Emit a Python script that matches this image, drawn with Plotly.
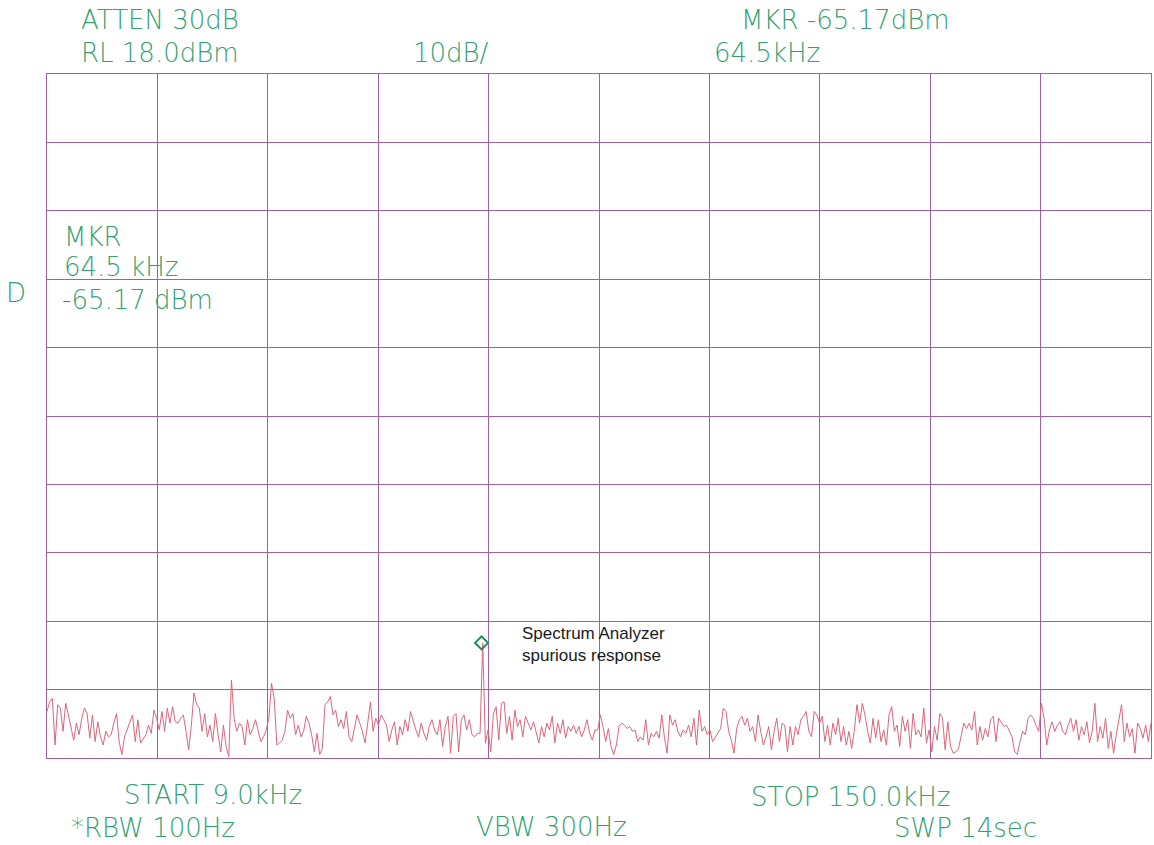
import numpy as np
import plotly.graph_objects as go

# ---- instrument settings ----
start_khz = 9.0
stop_khz = 150.0
ref_level_dbm = 18.0
db_per_div = 10.0
n_div = 10

marker_khz = 64.5
marker_dbm = -65.17

# ---- trace values (dBm), left to right ----
seg1 = [-75.2, -73.8, -73.3, -80.1, -74.2, -74.7, -78.1, -74.0, -75.7, -77.7,
        -79.4, -76.9, -78.6, -76.2, -74.7, -75.5, -79.1, -75.7, -79.6, -76.7,
        -78.9, -80.1, -78.1, -78.9, -78.6, -76.9, -75.5, -79.6, -81.5, -78.9,
        -77.9, -76.9, -75.7, -79.6, -76.4, -79.8, -79.1, -78.6, -77.2, -78.4,
        -75.0, -76.2, -77.9, -75.2, -78.1, -74.7, -76.9, -74.5, -76.7, -76.9,
        -76.2, -75.7, -78.1, -80.8, -77.2, -72.5, -74.2, -74.7, -78.1, -75.5,
        -78.9, -77.2, -79.6, -75.5, -78.6, -81.1, -77.2, -80.3, -81.8]
seg2 = [-70.6, -76.2, -78.1, -76.9, -77.4, -80.1, -76.4, -78.6, -77.7, -76.4,
        -78.1, -79.6, -78.9, -77.9, -76.2, -71.1, -73.3, -80.1, -79.8, -79.4,
        -78.1, -75.0, -76.2, -75.5, -78.6, -77.2, -78.9, -78.1, -75.9, -76.9,
        -78.6, -81.1, -78.4, -81.5, -80.6, -74.2, -73.8, -73.0, -75.7, -75.0,
        -77.4, -76.4, -77.7, -75.2, -78.9, -79.6, -77.7, -75.7, -76.9, -78.1,
        -79.8, -76.4, -73.8, -78.1, -76.2, -77.2, -75.7, -76.4, -77.2, -79.6,
        -77.9, -76.7, -80.1, -77.4, -78.6, -76.4, -78.1, -75.2, -76.7]
seg3 = [-77.9, -78.9, -76.9, -78.4, -79.4, -77.4, -76.4, -77.9, -78.6, -76.4,
        -80.3, -77.4, -75.9, -81.3, -75.9, -75.5, -81.1, -76.4, -75.7, -77.9,
        -76.4, -78.6, -78.9, -78.4, -78.4, -65.17, -79.8, -77.9, -81.1, -75.5,
        -74.5, -79.4, -74.0, -73.8, -78.4, -75.9, -79.4, -75.0, -77.4, -76.4,
        -78.9, -75.9, -76.9, -77.9, -76.7, -78.4, -79.8, -77.4, -78.9, -76.9,
        -77.9, -75.9, -79.8, -76.9, -78.4, -76.4, -79.1, -77.4, -78.1, -77.2,
        -78.4, -77.4, -78.9, -77.9, -76.4, -78.4, -79.4, -77.9, -77.9]
seg4 = [-75.7, -77.4, -79.6, -77.7, -80.3, -81.5, -80.1, -77.4, -76.9, -77.2,
        -77.7, -77.4, -78.1, -77.9, -79.6, -78.9, -79.4, -76.4, -80.1, -78.4,
        -78.9, -78.1, -79.1, -75.7, -79.1, -81.3, -75.7, -77.2, -76.4, -78.1,
        -78.9, -77.9, -78.4, -77.2, -78.9, -76.2, -80.1, -75.0, -78.1, -77.4,
        -78.6, -77.9, -79.6, -78.9, -78.4, -77.7, -74.7, -75.2, -78.1, -79.4,
        -81.3, -77.7, -76.4, -75.9, -77.2, -76.2, -78.1, -77.4, -79.6, -75.7,
        -78.1, -80.1, -78.9, -77.4, -80.8, -78.1, -76.2, -79.6, -76.9]
seg5 = [-77.2, -81.1, -77.4, -80.1, -77.4, -78.6, -76.4, -75.9, -75.2, -78.1,
        -78.9, -75.2, -75.7, -76.9, -75.9, -79.6, -77.2, -80.1, -76.9, -78.6,
        -76.2, -79.6, -77.4, -80.1, -78.1, -80.6, -78.1, -74.2, -76.9, -74.0,
        -75.7, -78.1, -79.8, -76.2, -79.1, -76.4, -79.6, -77.9, -80.1, -75.7,
        -74.5, -78.1, -77.2, -80.3, -75.9, -78.1, -76.4, -80.6, -75.5, -78.6,
        -77.9, -78.9, -74.7, -79.8, -77.9, -81.1, -77.4, -79.4, -75.5, -76.2,
        -80.8, -76.7, -80.3, -81.3, -81.1, -80.6, -78.6, -76.9, -77.7]
seg6 = [-76.9, -77.9, -75.2, -80.1, -77.4, -79.4, -77.7, -78.9, -76.4, -75.9,
        -79.6, -76.2, -76.9, -77.4, -77.2, -78.1, -78.9, -81.1, -81.5, -79.6,
        -78.1, -78.6, -76.2, -75.7, -76.2, -77.2, -78.1, -74.0, -76.2, -80.1,
        -77.9, -76.7, -78.1, -77.2, -76.7, -78.1, -78.6, -77.2, -76.2, -78.1,
        -76.4, -79.4, -77.4, -78.6, -76.7, -79.8, -78.1, -74.0, -79.6, -77.4,
        -79.1, -76.2, -80.6, -78.1, -81.3, -78.6, -76.2, -74.2, -79.6, -76.9,
        -78.9, -77.7, -81.3, -76.9, -77.7, -79.1, -77.2, -79.6, -76.9]

trace_dbm = seg1 + seg2 + seg3 + seg4 + seg5 + seg6
freq_khz = np.linspace(start_khz, stop_khz, len(trace_dbm))

bottom_dbm = ref_level_dbm - db_per_div * n_div

GREEN = "#34a072"
GRID = "#a0629e"
TRACE = "#d9677c"
FONT = "DejaVu Sans"

fig = go.Figure()
fig.add_trace(go.Scatter(x=freq_khz, y=trace_dbm, mode="lines",
                         line=dict(color=TRACE, width=1), hoverinfo="skip"))
fig.add_trace(go.Scatter(x=[marker_khz], y=[marker_dbm], mode="markers",
                         marker=dict(symbol="diamond-open", size=10, color="#1f8a5a",
                                     line=dict(width=2, color="#1f8a5a")),
                         hoverinfo="skip"))

L, R, T, B = 47, 1151, 74, 758
W, H = 1154, 845


def px(xp):
    return (xp - L) / (R - L)


def py(yp):
    return (B - yp) / (B - T)


texts = [
    ("ATTEN 30dB", 160, 20, "center"),
    ("RL 18.0dBm", 160, 53, "center"),
    ("10dB/", 451, 53, "center"),
    ("MKR -65.17dBm", 845, 20, "center"),
    ("64.5kHz", 767, 53, "center"),
    ("MKR", 62, 237, "left"),
    ("64.5 kHz", 62, 267, "left"),
    ("-65.17 dBm", 60, 300, "left"),
    ("D", 16, 293, "center"),
    ("START 9.0kHz", 213, 795, "center"),
    ("*RBW 100Hz", 153, 828, "center"),
    ("VBW 300Hz", 551, 827, "center"),
    ("STOP 150.0kHz", 850, 797, "center"),
    ("SWP 14sec", 965, 828, "center"),
]
annotations = []
for txt, x0, y0, anchor in texts:
    annotations.append(dict(text=txt, x=px(x0), y=py(y0), xref="paper", yref="paper",
                            xanchor=anchor, yanchor="middle", showarrow=False,
                            font=dict(family=FONT, size=26, color=GREEN, weight=200)))
annotations.append(dict(text="Spectrum Analyzer<br>spurious response", x=px(520), y=py(644),
                        xref="paper", yref="paper", xanchor="left", yanchor="middle",
                        align="left", showarrow=False,
                        font=dict(family="Liberation Sans", size=17, color="#1a1a1a")))

fig.update_layout(
    width=W, height=H,
    margin=dict(l=L, r=W - R, t=T, b=H - B),
    paper_bgcolor="white", plot_bgcolor="white",
    showlegend=False,
    annotations=annotations,
)
fig.update_xaxes(range=[start_khz, stop_khz], tick0=start_khz,
                 dtick=(stop_khz - start_khz) / n_div, showgrid=True,
                 gridcolor=GRID, gridwidth=1, showline=True, mirror=True,
                 linecolor=GRID, linewidth=1, showticklabels=False, ticks="",
                 zeroline=False, fixedrange=True)
fig.update_yaxes(range=[bottom_dbm, ref_level_dbm], tick0=bottom_dbm, dtick=db_per_div,
                 showgrid=True, gridcolor=GRID, gridwidth=1, showline=True, mirror=True,
                 linecolor=GRID, linewidth=1, showticklabels=False, ticks="",
                 zeroline=False, fixedrange=True)

fig.write_html("out.html")
